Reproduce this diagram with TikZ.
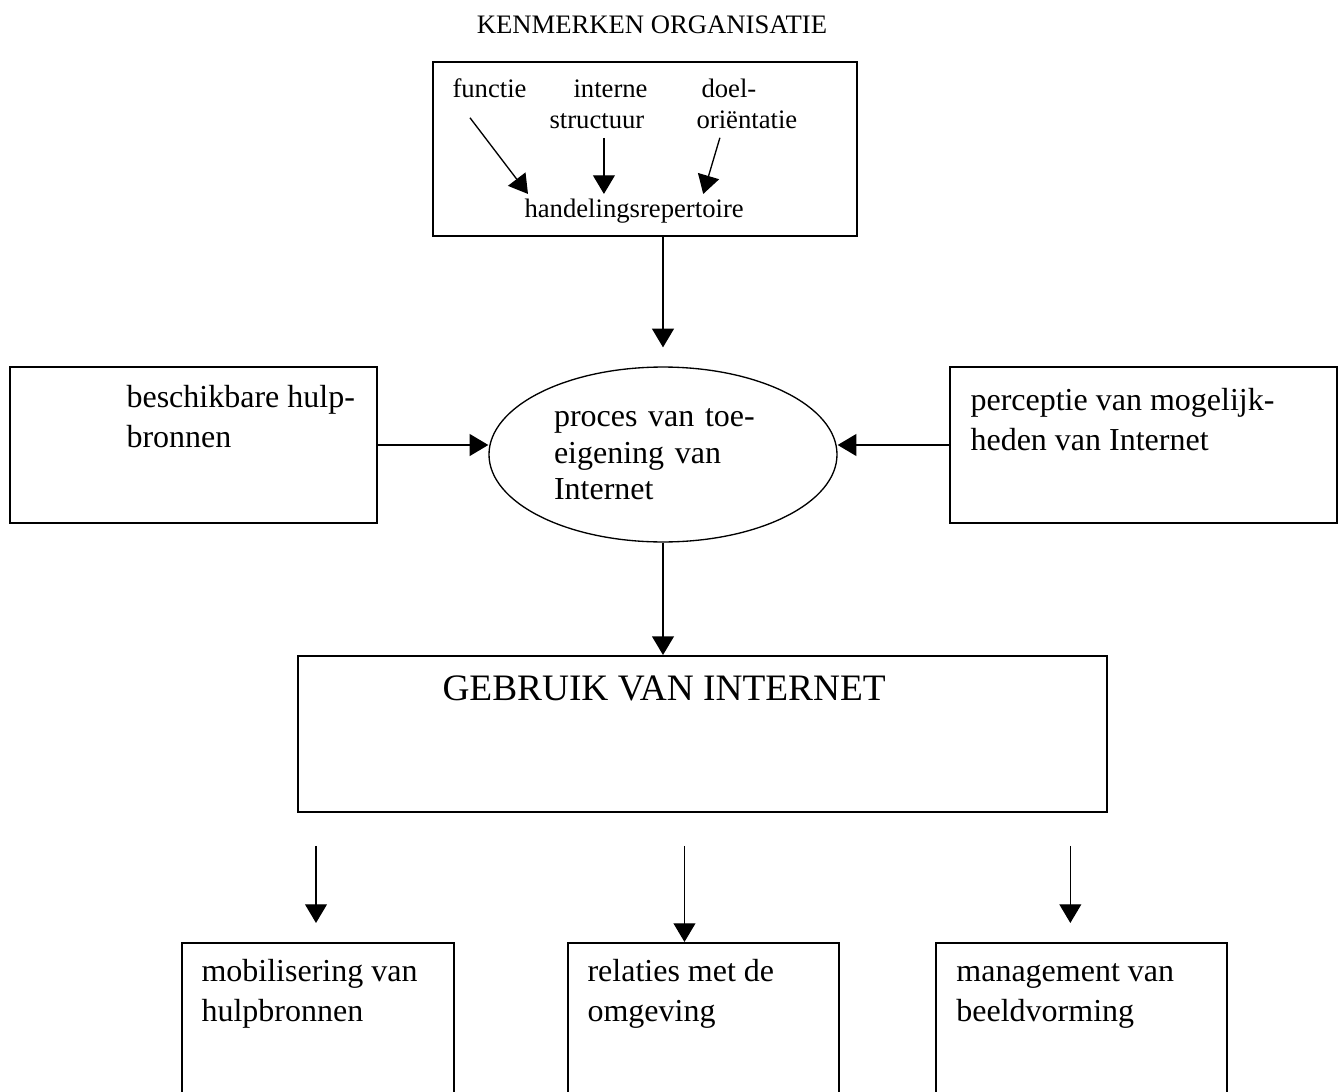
\documentclass[tikz,border=0pt]{standalone}
\usepackage{fontspec}
\setmainfont{Liberation Serif}
\usetikzlibrary{arrows.meta}
\usetikzlibrary{calc}
\usetikzlibrary{positioning}
\usetikzlibrary{shapes.geometric}

\begin{document}
\begin{tikzpicture}[x=0.375pt,y=-0.375pt,>={Triangle[length=7pt,width=8.2pt]}]
 \tikzstyle{box}=[draw, rectangle, line width=0.75pt, inner sep=0pt]
 \tikzstyle{txt}=[inner sep=0pt, align=left, font=\fontsize{12}{15}\selectfont]
 \tikzstyle{small}=[inner sep=0pt, font=\fontsize{10}{12}\selectfont]
 \tikzstyle{pijl}=[->, line width=0.5pt]
 \useasboundingbox (0,0) rectangle (1344,1092);
 \clip (0,0) rectangle (1344,1092);
 % kenmerken organisatie
 \node[small, anchor=base] (titel) at (652,33) {KENMERKEN ORGANISATIE};
 \node[box, minimum width=159pt, minimum height=65.25pt] (org) at (645,149) {};
 \node[small, anchor=base west] (fn) at (452,97) {functie};
 \node[small, anchor=base west] (intern) at (573,97) {interne};
 \node[small, anchor=base west] (st) at (549,128) {structuur};
 \node[small, anchor=base west] (doel) at (701,97) {doel-};
 \node[small, anchor=base west] (orient) at (696,128) {oriëntatie};
 \node[small, anchor=base west] (rep) at (524,217) {handelingsrepertoire};
 \draw[pijl] ($(fn.south west)+(18,20)$) -- ($(rep.north west)+(4,-4)$);
 \draw[pijl] ($(st.south)+(7,9)$) -- ($(st.south |- rep.north)+(7,-4)$);
 \draw[pijl] ($(orient.south)+(-27,9)$) -- ($(rep.north east)+(-41,-4)$);
 % middelste rij
 \node[draw, ellipse, line width=0.5pt, minimum width=130.5pt, minimum height=65.6pt, inner sep=0pt,
       text width=81.75pt, align=left, font=\fontsize{12}{13.7}\selectfont] (proc) at (663,454.5) {proces van toe-\\eigening van\\Internet};
 \node[box, minimum width=137.6pt, minimum height=58.5pt] (hulp) at (193.5,445) {};
 \node[box, minimum width=145.1pt, minimum height=58.5pt] (perc) at (1143.5,445) {};
 \node[txt, anchor=base west] (hulptxt) at ($(hulp.north west)+(117,81)$) {beschikbare hulp-\\bronnen};
 \node[txt, anchor=base west] (perctxt) at ($(perc.north west)+(21,84)$) {perceptie van mogelijk-\\heden van Internet};
 \draw[pijl] (proc.north |- org.south) -- ($(proc.north)+(0,-19)$);
 \draw[pijl] (hulp.east) -- (hulp.east -| proc.west);
 \draw[pijl] (perc.west) -- (perc.west -| proc.east);
 % gebruik
 \node[box, minimum width=303.4pt, minimum height=58.5pt] (gebr) at (702.5,734) {};
 \node[anchor=base west, inner sep=0pt, font=\fontsize{14}{16}\selectfont] (gtxt) at (442,700) {GEBRUIK VAN INTERNET};
 \draw[pijl] (proc.south) -- (proc.south |- gebr.north);
 % gevolgen
 \node[box, minimum width=102pt, minimum height=63.4pt] (mob) at (318,1027.5) {};
 \node[box, minimum width=101.6pt, minimum height=63.4pt, right=42pt of mob] (rel) {};
 \node[box, minimum width=109.1pt, minimum height=63.4pt, right=35.6pt of rel] (beeld) {};
 \node[txt, anchor=base west] (mobtxt) at ($(mob.north west)+(20,80)$) {mobilisering van\\hulpbronnen};
 \node[txt, anchor=base west] (reltxt) at ($(rel.north west)+(20,80)$) {relaties met de\\omgeving};
 \node[txt, anchor=base west] (beeldtxt) at ($(beeld.north west)+(21,80)$) {management van\\beeldvorming};
 \foreach \b/\dx/\gap in {mob/-2/19, rel/-19/0, beeld/-11/19}
   \draw[pijl] ($(\b.north)+(\dx,-96)$) -- ($(\b.north)+(\dx,-\gap)$);
\end{tikzpicture}
\end{document}
